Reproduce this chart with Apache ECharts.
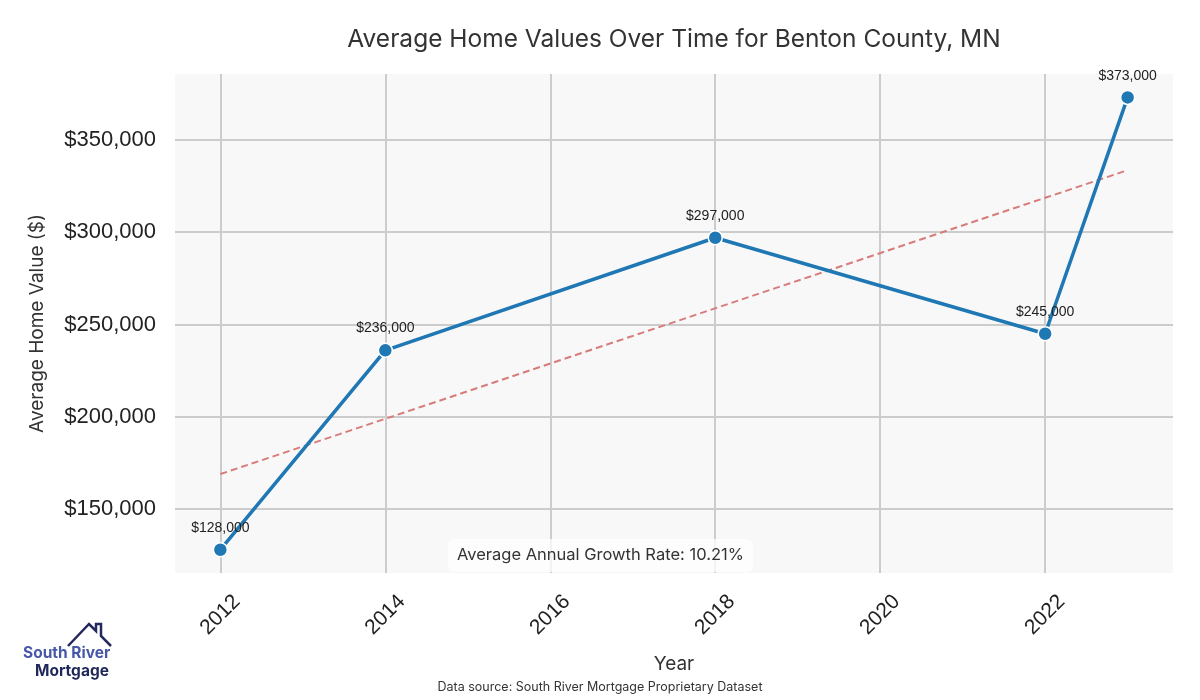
<!DOCTYPE html>
<html><head><meta charset="utf-8">
<script src="https://cdn.jsdelivr.net/npm/echarts@6/dist/echarts.min.js"></script>
<style>html,body{margin:0;padding:0;background:#fff}#c{width:1200px;height:700px}</style>
</head><body><div id="c"></div>
<script>
const years = [2012, 2014, 2018, 2022, 2023];
const values = [128000, 236000, 297000, 245000, 373000];
const trendYears = [2012, 2023];
const trendValues = [169000, 333600];
const xTicks = [2012, 2014, 2016, 2018, 2020, 2022];
const yTicks = [150000, 200000, 250000, 300000, 350000];
const titleText = 'Average Home Values Over Time for Benton County, MN';
const growthText = 'Average Annual Growth Rate: 10.21%';
const sourceText = 'Data source: South River Mortgage Proprietary Dataset';

const fmt = v => '$' + v.toLocaleString('en-US');
const chart = echarts.init(document.getElementById('c'));
const gridStyle = {color: '#cccccc', width: 2, type: 'solid'};
chart.setOption({
  backgroundColor: '#ffffff',
  animation: false,
  title: {
    text: titleText, left: 669, top: 22, textAlign: 'center',
    textStyle: {fontFamily: 'Inter', fontWeight: 'normal', fontSize: 24.5, color: '#333'}
  },
  grid: {left: 175, right: 27, top: 74, bottom: 127, show: true, backgroundColor: '#f8f8f8', borderWidth: 0},
  xAxis: {
    type: 'value', min: 2011.45, max: 2023.55,
    name: 'Year', nameLocation: 'middle', nameGap: 82,
    nameTextStyle: {fontFamily: 'Inter', fontSize: 19, color: '#333'},
    axisLine: {show: false},
    axisTick: {show: false, customValues: xTicks},
    axisLabel: {
      customValues: xTicks,
      rotate: 45, align: 'center', verticalAlign: 'middle',
      fontFamily: 'Liberation Sans', fontSize: 21, color: '#222', margin: 42,
      formatter: v => String(Math.round(v))
    },
    splitLine: {show: false}
  },
  yAxis: {
    type: 'value', min: 115400, max: 385700,
    name: 'Average Home Value ($)', nameLocation: 'middle', nameGap: 128, nameRotate: 90,
    nameTextStyle: {fontFamily: 'Inter', fontSize: 19, color: '#333'},
    axisLine: {show: false},
    axisTick: {show: false, customValues: yTicks},
    axisLabel: {
      customValues: yTicks,
      fontFamily: 'Liberation Sans', fontSize: 22, color: '#222', margin: 19,
      formatter: v => fmt(Math.round(v))
    },
    splitLine: {show: false}
  },
  series: [
    {
      type: 'line', z: 1, data: [], silent: true,
      markLine: {
        silent: true, symbol: ['none', 'none'], z: 1, animation: false,
        label: {show: false}, lineStyle: gridStyle,
        emphasis: {disabled: true},
        data: xTicks.map(v => ({xAxis: v})).concat(yTicks.map(v => ({yAxis: v})))
      }
    },
    {
      type: 'line', z: 3,
      data: trendYears.map((y, i) => [y, trendValues[i]]),
      symbol: 'none',
      lineStyle: {color: '#d87b7b', width: 2, type: [7, 4]}
    },
    {
      type: 'line', z: 5,
      data: years.map((y, i) => [y, values[i]]),
      symbol: 'circle', symbolSize: 14,
      lineStyle: {color: '#1f77b4', width: 3.5},
      itemStyle: {color: '#1f77b4', borderColor: '#ffffff', borderWidth: 1.5},
      label: {
        show: true, position: 'top', distance: 7,
        fontFamily: 'Liberation Sans', fontSize: 14, color: '#222',
        formatter: p => fmt(p.value[1])
      }
    }
  ],
  graphic: [
    {
      type: 'text', left: 448, top: 539, z: 10,
      style: {
        text: growthText, fontFamily: 'Inter', fontSize: 16.5, fill: '#333',
        backgroundColor: 'rgba(255,255,255,0.75)', padding: [8, 9, 8, 9], borderRadius: 6
      }
    },
    {
      type: 'text', left: 'center', top: 681,
      style: {text: sourceText, fontFamily: 'Inter', fontSize: 12.5, fill: '#333'}
    },
    {
      type: 'polyline', z: 10,
      shape: {points: [[68, 646], [89, 624], [96, 631], [96, 624], [101, 624], [101, 636], [111, 646]]},
      style: {stroke: '#23285e', lineWidth: 2.5, fill: null}
    },
    {
      type: 'text', left: 23, top: 645,
      style: {text: 'South River', fontFamily: 'Inter', fontWeight: 'bold', fontSize: 15.5, fill: '#4858a8'}
    },
    {
      type: 'text', left: 35, top: 663,
      style: {text: 'Mortgage', fontFamily: 'Inter', fontWeight: 'bold', fontSize: 15.5, fill: '#1f2658'}
    }
  ]
});
</script></body></html>
